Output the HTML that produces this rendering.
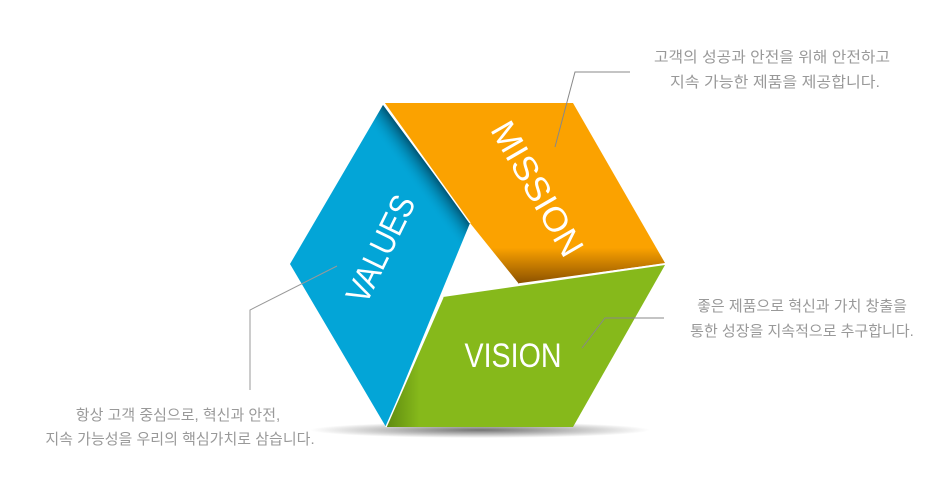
<!DOCTYPE html>
<html><head><meta charset="utf-8"><style>
body{margin:0;width:940px;height:497px;background:#fff;overflow:hidden;font-family:"Liberation Sans","Noto Sans CJK KR",sans-serif;}
</style></head><body>
<svg width="940" height="497" viewBox="0 0 940 497" xmlns="http://www.w3.org/2000/svg">
<defs>
<radialGradient id="sh" cx="0.5" cy="0.5" r="0.5">
<stop offset="0" stop-color="#000" stop-opacity="0.55"/>
<stop offset="1" stop-color="#000" stop-opacity="0"/>
</radialGradient>
<linearGradient id="og" x1="0" y1="0" x2="0" y2="1">
<stop offset="0.8" stop-color="#fba200"/><stop offset="1" stop-color="#8a5000"/>
</linearGradient>
<linearGradient id="gg" x1="0" y1="0" x2="1" y2="0">
<stop offset="0" stop-color="#5e8a10"/><stop offset="0.12" stop-color="#86b91b"/><stop offset="1" stop-color="#86b91b"/>
</linearGradient>
<linearGradient id="bs" gradientUnits="userSpaceOnUse" x1="427" y1="164" x2="408" y2="178">
<stop offset="0" stop-color="#00445f" stop-opacity="0.85"/><stop offset="1" stop-color="#03a5d7" stop-opacity="0"/>
</linearGradient>
</defs>
<ellipse cx="480" cy="430" rx="170" ry="8" fill="url(#sh)"/>
<polygon points="383,105 470,223 386,427 290,264" fill="#03a5d7"/>
<polygon points="383,105 470,223 386,427 290,264" fill="url(#bs)"/>
<polygon points="384,103 573,103 665,263 519,284 470,223" fill="url(#og)"/>
<polygon points="443,297 665,265 573,427 386,427" fill="url(#gg)"/>
<line x1="384" y1="103" x2="470" y2="223" stroke="#fff" stroke-width="1.5"/>
<line x1="443" y1="297" x2="386" y2="427" stroke="#fff" stroke-width="1.5"/>
<line x1="519" y1="284" x2="665" y2="264" stroke="#fff" stroke-width="1.5"/>
<text x="0" y="0" transform="translate(535,190) rotate(60)" font-size="34" fill="#fff" text-anchor="middle" dominant-baseline="middle" textLength="150" lengthAdjust="spacingAndGlyphs">MISSION</text>
<text x="0" y="0" transform="translate(383,250) rotate(-64)" font-size="34" fill="#fff" text-anchor="middle" dominant-baseline="middle" textLength="115" lengthAdjust="spacingAndGlyphs">VALUES</text>
<text x="513" y="367" font-size="34" fill="#fff" text-anchor="middle" textLength="97" lengthAdjust="spacingAndGlyphs">VISION</text>
<polyline points="555,147 575,72 630,72" fill="none" stroke="#888" stroke-width="1"/>
<polyline points="337,266 250,310 250,390" fill="none" stroke="#999" stroke-width="1"/>
<polyline points="582,348 605,318 664,318" fill="none" stroke="#888" stroke-width="1"/>
<g font-size="15" fill="#999" text-anchor="middle" font-family="Liberation Sans,'Noto Sans CJK KR',sans-serif">
<text x="772" y="62" textLength="236" lengthAdjust="spacingAndGlyphs">고객의 성공과 안전을 위해 안전하고</text>
<text x="775" y="87" textLength="210" lengthAdjust="spacingAndGlyphs">지속 가능한 제품을 제공합니다.</text>
<text x="802" y="311">좋은 제품으로 혁신과 가치 창출을</text>
<text x="802" y="336">통한 성장을 지속적으로 추구합니다.</text>
<text x="178" y="420">항상 고객 중심으로, 혁신과 안전,</text>
<text x="180" y="444">지속 가능성을 우리의 핵심가치로 삼습니다.</text>
</g>
</svg>
</body></html>
